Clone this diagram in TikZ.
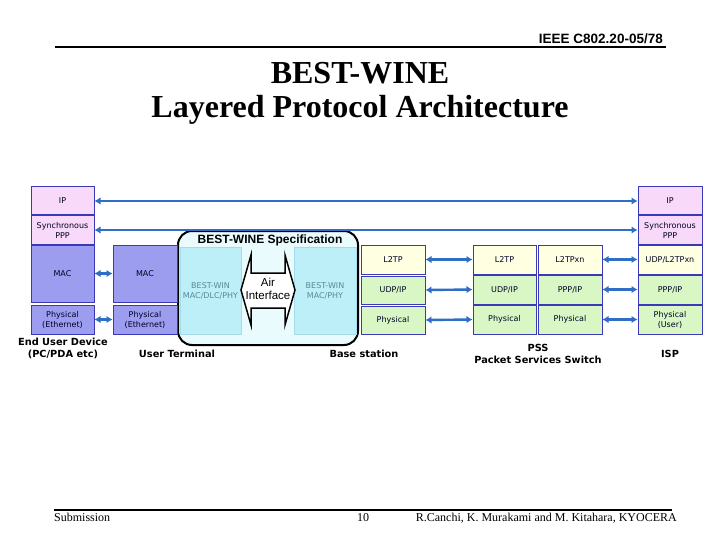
\documentclass[tikz,border=0pt]{standalone}
\usepackage{fontspec}
\setmainfont{Liberation Serif}
\newfontfamily\arialf{Liberation Sans}
\newfontfamily\verdf{DejaVu Sans}
\usetikzlibrary{arrows.meta}
\definecolor{pinkfill}{HTML}{F9D9F9}
\definecolor{macfill}{HTML}{9D9DF0}
\definecolor{yelfill}{HTML}{FFFFE2}
\definecolor{grnfill}{HTML}{D9F7C4}
\definecolor{cyanfill}{HTML}{BDEFF8}
\definecolor{cyanline}{HTML}{A6DCEA}
\definecolor{specfill}{HTML}{EAFBFD}
\definecolor{boxline}{HTML}{3A3AB8}
\definecolor{arrcol}{HTML}{2F6EC4}
\definecolor{wintext}{HTML}{58899A}
\newcommand{\layerbox}[7]{\node[layer, fill=#6, minimum width={#4-#2}, minimum height={#5-#3}] (#1) at ({(#2+#4)/2},{(#3+#5)/2}) {#7};}
\begin{document}
\begin{tikzpicture}[x=1pt,y=-1pt,
  layer/.style={draw=boxline, line width=1pt, inner sep=0pt, align=center,
    font=\verdf\fontsize{8}{10}\selectfont, text=black!85!blue},
  inner/.style={draw=cyanline, line width=0.6pt, fill=cyanfill, inner sep=0pt, align=center,
    font=\verdf\fontsize{8}{10}\selectfont, text=wintext},
  arr/.style={draw=arrcol, line width=2.4pt, {Latex[length=6pt,width=7.5pt]}-{Latex[length=6pt,width=7.5pt]}},
  lbl/.style={font=\verdf\bfseries\fontsize{9.8}{11.5}\selectfont, align=center},
  foot/.style={font=\fontsize{12}{14}\selectfont, inner sep=0pt},
]
\fill[white] (0,0) rectangle (720,540);
\useasboundingbox (0,0) rectangle (720,540);

% header
\draw[line width=1.5pt] (55,47) -- (666,47);
\node[font=\arialf\bfseries\fontsize{13.5}{14}\selectfont, anchor=base east, inner sep=0pt] (docno) at (663,44) {IEEE C802.20-05/78};
\node[font=\bfseries\fontsize{32}{38}\selectfont] (t1) at (360,73) {BEST-WINE};
\node[font=\bfseries\fontsize{32}{38}\selectfont] (t2) at (360,110) {Layered Protocol Architecture};

% footer
\draw[line width=2pt] (54,509.5) -- (672,509.5);
\node[foot, anchor=base west] (sub) at (54,521) {Submission};
\node[foot, anchor=base] (pg) at (363,521) {10};
\node[foot, anchor=base east] (auth) at (677,521) {R.Canchi, K. Murakami and M. Kitahara, KYOCERA};

% BEST-WINE specification box
\node[draw=black, line width=2pt, rounded corners=14pt, fill=specfill, minimum width=180, minimum height=114, inner sep=0pt] (spec) at (268,288) {};
\node[font=\arialf\bfseries\fontsize{12}{14}\selectfont] (spect) at (270,240) {BEST-WINE Specification};
\node[inner, minimum width=61, minimum height=87] (bwl) at (210.5,290.5) {BEST-WIN\\MAC/DLC/PHY};
\node[inner, minimum width=62, minimum height=87] (bwr) at (325,290.5) {BEST-WIN\\MAC/PHY};
\draw[line width=1.5pt, fill=white] (241,290) -- (251,255) -- (251,273) -- (285,273) -- (285,255)
  -- (295,290) -- (285,325) -- (285,308) -- (251,308) -- (251,325) -- cycle;
\node[font=\arialf\fontsize{11.5}{13.5}\selectfont, align=center, inner sep=0pt] (air) at (268,289) {Air\\Interface};

% End user device
\layerbox{lip}{31}{187}{94}{215}{pinkfill}{IP}
\layerbox{lppp}{31}{216}{94}{244}{pinkfill}{Synchronous\\PPP}
\layerbox{lmac}{31}{245}{94}{302}{macfill}{MAC}
\layerbox{lphy}{31}{305}{94}{334}{macfill}{Physical\\(Ethernet)}
% User terminal
\layerbox{umac}{113}{245}{177}{302}{macfill}{MAC}
\layerbox{uphy}{113}{305}{177}{334}{macfill}{Physical\\(Ethernet)}
% Base station
\layerbox{bl2}{361}{245}{425}{274}{yelfill}{L2TP}
\layerbox{bud}{361}{276}{425}{304}{grnfill}{UDP/IP}
\layerbox{bph}{361}{306}{425}{334}{grnfill}{Physical}
% PSS column 1
\layerbox{pal2}{473}{245}{536}{274}{yelfill}{L2TP}
\layerbox{paud}{473}{275}{536}{304}{grnfill}{UDP/IP}
\layerbox{paph}{473}{305}{536}{334}{grnfill}{Physical}
% PSS column 2
\layerbox{pbl2}{538}{245}{602}{274}{yelfill}{L2TPxn}
\layerbox{pbud}{538}{275}{602}{304}{grnfill}{PPP/IP}
\layerbox{pbph}{538}{305}{602}{334}{grnfill}{Physical}
% ISP
\layerbox{rip}{638}{187}{702}{215}{pinkfill}{IP}
\layerbox{rppp}{638}{216}{702}{244}{pinkfill}{Synchronous\\PPP}
\layerbox{rl2}{638}{245}{702}{274}{yelfill}{UDP/L2TPxn}
\layerbox{rud}{638}{275}{702}{304}{grnfill}{PPP/IP}
\layerbox{rph}{638}{305}{702}{334}{grnfill}{Physical\\(User)}

% arrows
\draw[arr] (lip.east) -- (rip.west);
\draw[arr] (lppp.east) -- (rppp.west);
\draw[arr] (lmac.east) -- (umac.west);
\draw[arr] (lphy.east) -- (uphy.west);
\draw[arr] (bl2.east) -- (pal2.west);
\draw[arr] (bud.east) -- (paud.west);
\draw[arr] (bph.east) -- (paph.west);
\draw[arr] (pbl2.east) -- (rl2.west);
\draw[arr] (pbud.east) -- (rud.west);
\draw[arr] (pbph.east) -- (rph.west);

% labels
\node[lbl] (eud) at (63,348.5) {End User Device\\(PC/PDA etc)};
\node[lbl] (ut) at (177,354) {User Terminal};
\node[lbl] (bs) at (364,354) {Base station};
\node[lbl] (pss) at (538,354) {PSS\\Packet Services Switch};
\node[lbl] (isp) at (670,354) {ISP};
\end{tikzpicture}
\end{document}
